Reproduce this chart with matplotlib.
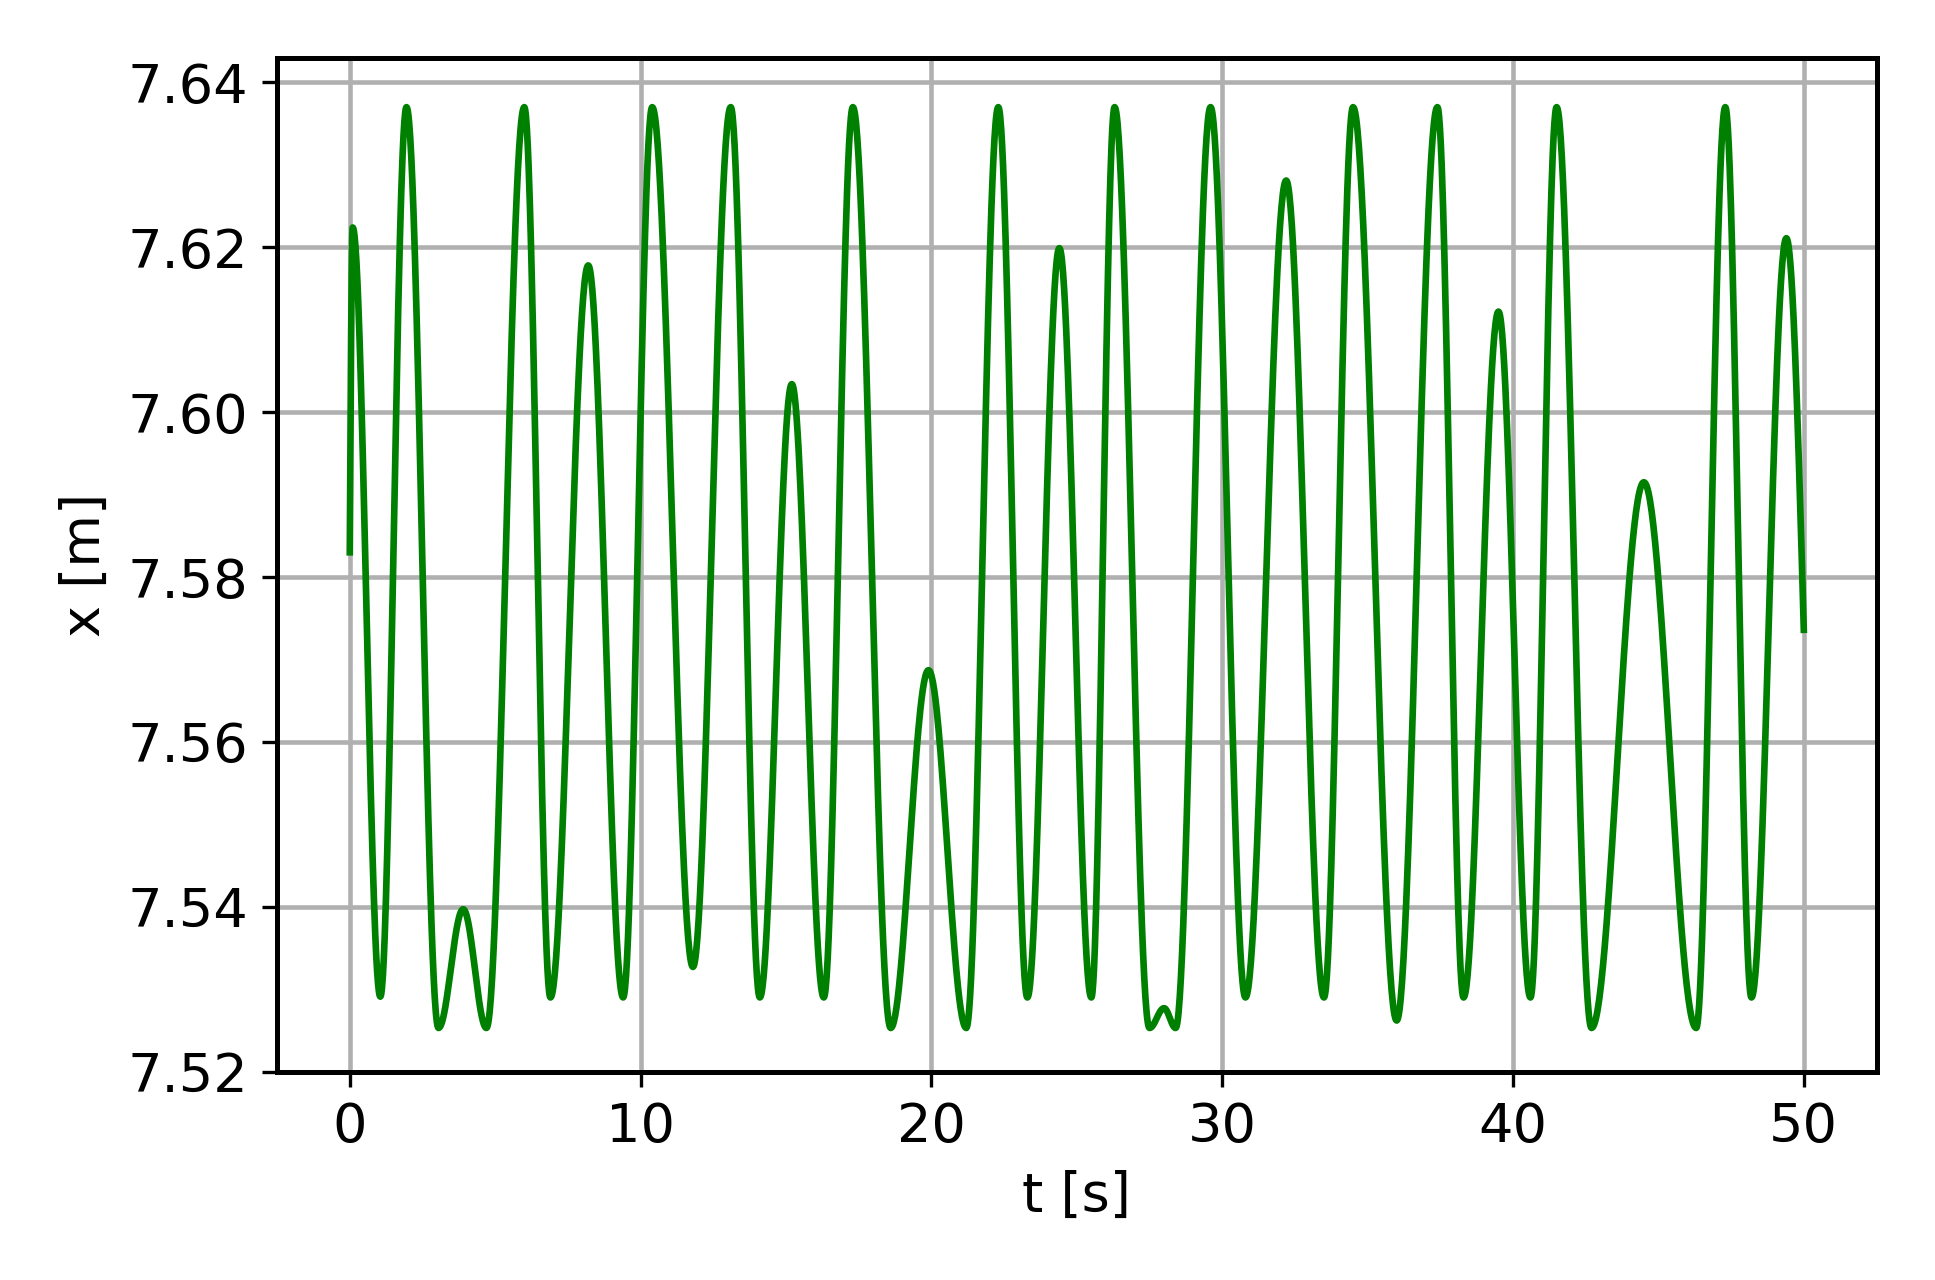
import matplotlib
matplotlib.use('Agg')
import matplotlib.pyplot as plt
import numpy as np

# turning points of the trajectory
t_ext = [0.0, 0.1, 1.05, 1.95, 3.05, 3.9, 4.7, 6.0, 6.9, 8.2, 9.4, 10.4, 11.8, 13.1, 14.1,
         15.2, 16.3, 17.3, 18.6, 19.9, 21.2, 22.3, 23.3, 24.4, 25.5, 26.3, 27.5, 28.0, 28.4,
         29.6, 30.8, 32.2, 33.5, 34.5, 36.0, 37.4, 38.3, 39.5, 40.6, 41.5, 42.7, 44.5, 46.3,
         47.3, 48.2, 49.4, 50.0]
x_ext = [7.583, 7.6224, 7.5291, 7.637, 7.5253, 7.5397, 7.5253, 7.637, 7.529, 7.6178, 7.529,
         7.637, 7.5327, 7.637, 7.529, 7.6034, 7.529, 7.637, 7.5253, 7.5687, 7.5253, 7.637,
         7.529, 7.6199, 7.529, 7.637, 7.5253, 7.5277, 7.5253, 7.637, 7.529, 7.6281, 7.529,
         7.637, 7.5262, 7.637, 7.529, 7.6122, 7.529, 7.637, 7.5253, 7.5915, 7.5253, 7.637,
         7.529, 7.6211, 7.5736]

# smooth half-cosine segments between turning points
t, x = [], []
for i in range(len(t_ext) - 1):
    s = np.linspace(0, 1, 60, endpoint=False)
    w = (1 - np.cos(np.pi * s)) / 2
    if i == 0 or i == len(t_ext) - 2:
        w = np.sin(np.pi * s / 2) if i == 0 else 1 - np.cos(np.pi * s / 2)
    t.extend(t_ext[i] + (t_ext[i + 1] - t_ext[i]) * s)
    x.extend(x_ext[i] + (x_ext[i + 1] - x_ext[i]) * w)
t.append(t_ext[-1]); x.append(x_ext[-1])

plt.rc('font', size=13)
plt.rc('axes', linewidth=1.2)
fig, ax = plt.subplots(figsize=(6.45, 4.2667), dpi=300)
ax.plot(t, x, color='green', linewidth=1.6)
ax.set_xlabel("t [s]")
ax.set_ylabel("x [m]")
ax.set_yticks([7.52, 7.54, 7.56, 7.58, 7.60, 7.62, 7.64])
ax.set_ylim(7.52, 7.6429)
ax.grid(True, color='#b0b0b0', linewidth=1.1)
plt.tight_layout()
plt.savefig('out.png', dpi=300)
